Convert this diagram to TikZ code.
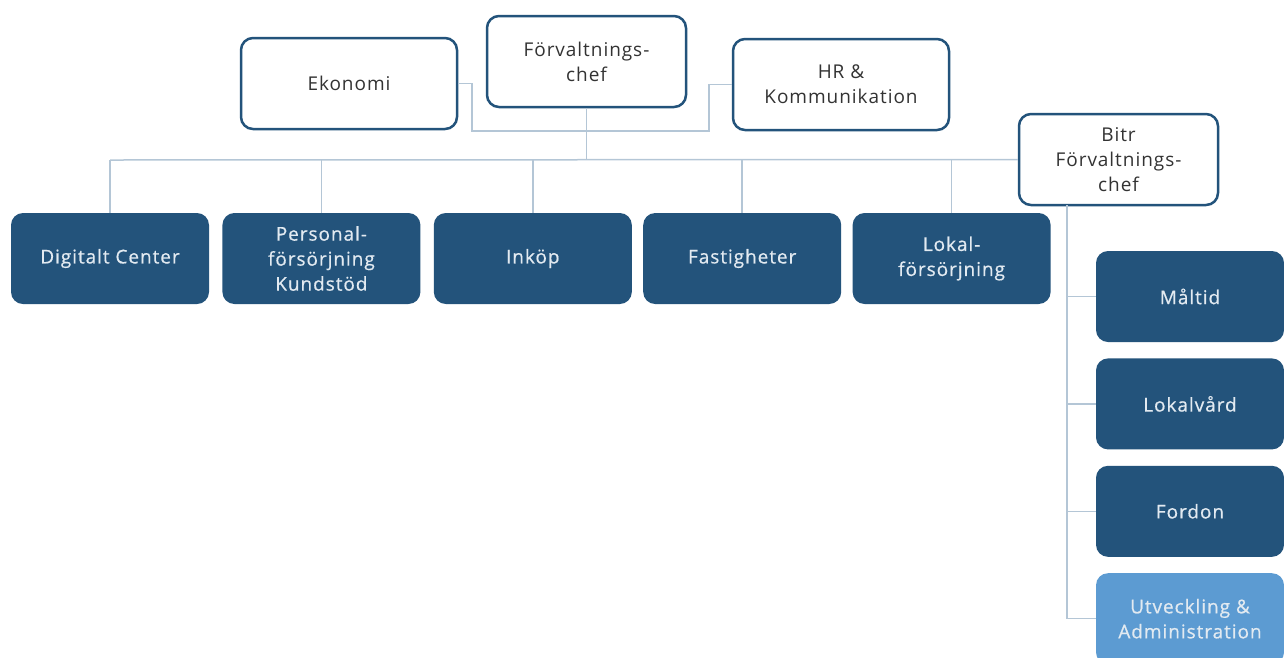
\documentclass[tikz,border=0pt]{standalone}
\usepackage{fontspec}
\setmainfont{Open Sans}[LetterSpace=5]
\newfontfamily\unitfont{Open Sans}[LetterSpace=5, FakeBold=0.6]
\usepackage{tikz}
\usetikzlibrary{positioning}
\definecolor{orgdark}{HTML}{23537B}
\definecolor{orglight}{HTML}{5C9BD2}
\definecolor{orgline}{HTML}{B4C6D6}
\definecolor{orgink}{HTML}{333333}
\definecolor{orgpale}{HTML}{E2EAF1}

\begin{document}
\begin{tikzpicture}[x=1pt, y=-1pt,
        head/.style={draw=orgdark, line width=2.5pt, fill=white, rounded corners=12pt, align=center, text=orgink, minimum width=199pt, minimum height=91pt, font=\fontsize{19}{25}\selectfont},
        unit/.style={fill=orgdark, rounded corners=12pt, align=center, text=orgpale, minimum width=198pt, minimum height=91pt, font=\unitfont\fontsize{19}{25}\selectfont},
        link/.style={orgline, line width=1.5pt}
    ]
        \useasboundingbox (0,0) rectangle (1284,657);
        \clip (0,0) rectangle (1284,657);

        % ledning
        \node (chef) [head] at (586.5,61.5) {Förvaltnings-\\chef};
        \node (eko) [head, minimum width=216pt] at (349,83.5) {Ekonomi};
        \node (hr) [head, minimum width=216pt] at (841,84.5) {HR \&\\Kommunikation};
        \node (bitr) [head] at (1118.5,159.5) {Bitr\\Förvaltnings-\\chef};

        % avdelningar
        \node (dig) [unit] at (110,258.5) {Digitalt Center};
        \node (pers) [unit, right=13pt of dig] {Personal-\\försörjning\\Kundstöd};
        \node (ink) [unit, right=13pt of pers] {Inköp};
        \node (fast) [unit, right=11pt of ink] {Fastigheter};
        \node (lok) [unit, right=11pt of fast] {Lokal-\\försörjning};

        \node (malt) [unit, minimum width=188pt] at (1190,296.5) {Måltid};
        \node (lokv) [unit, minimum width=188pt, below=16pt of malt] {Lokalvård};
        \node (ford) [unit, minimum width=188pt, below=16pt of lokv] {Fordon};
        \node (utv) [unit, minimum width=188pt, fill=orglight, below=16pt of ford] {Utveckling \&\\Administration};

        % stab
        \coordinate (stafflo) at (472,131);
        \coordinate (staffhi) at (709,131);
        \draw [link] (eko.east) -| (stafflo) -- (staffhi) |- (hr.west);

        % linje
        \coordinate (bus) at (588,160);
        \draw [link] (chef.south) -- (chef.south |- bus);
        \draw [link] (dig.north |- bus) -- (bitr.west);
        \draw [link] (dig.north) -- (dig.north |- bus);
        \draw [link] (pers.north) -- (pers.north |- bus);
        \draw [link] (ink.north) -- (ink.north |- bus);
        \draw [link] (fast.north) -- (fast.north |- bus);
        \draw [link] (lok.north) -- (lok.north |- bus);

        \coordinate (spine) at (1067,205);
        \draw [link] (spine) |- (utv.west);
        \draw [link] (spine |- malt.west) -- (malt.west);
        \draw [link] (spine |- lokv.west) -- (lokv.west);
        \draw [link] (spine |- ford.west) -- (ford.west);
    \end{tikzpicture}
\end{document}
